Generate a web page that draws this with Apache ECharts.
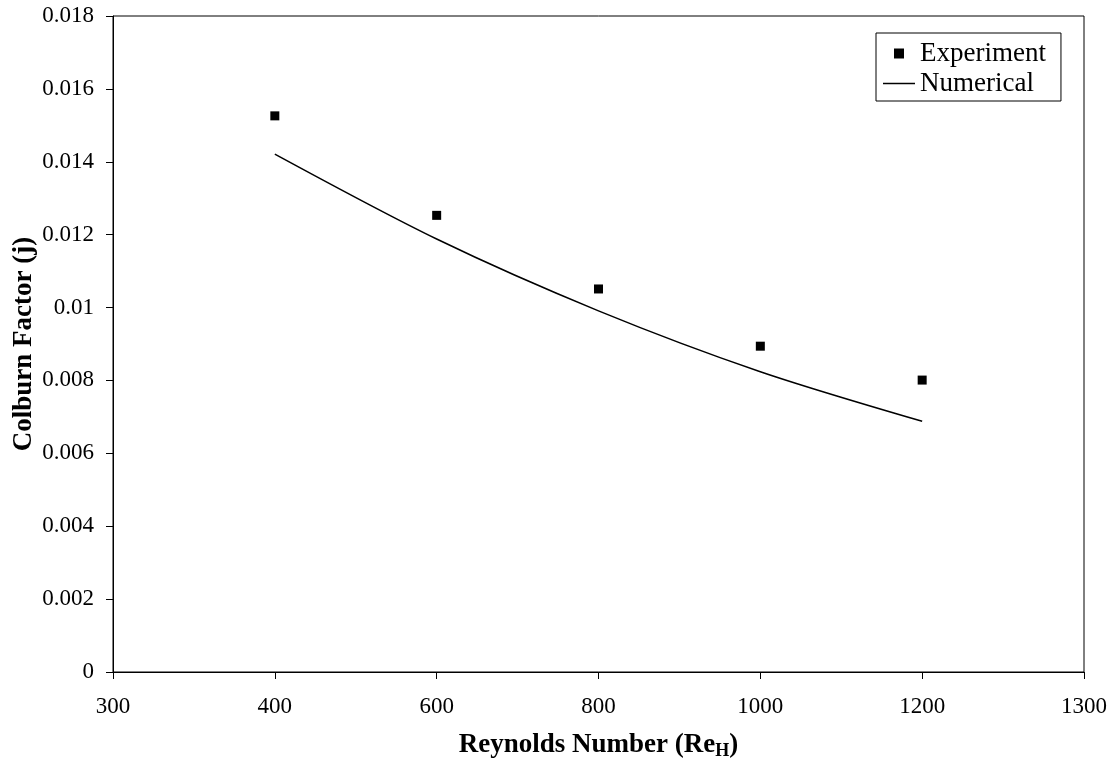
<!DOCTYPE html>
<html>
<head>
<meta charset="utf-8">
<title>Colburn Factor vs Reynolds Number</title>
<script src="https://cdn.jsdelivr.net/npm/echarts@6/dist/echarts.min.js"></script>
<style>
    html, body { margin: 0; padding: 0; background: #fff; }
    #chart { width: 1117px; height: 765px; }
</style>
</head>
<body>
<div id="chart"></div>
<script>
    // x axis tick labels (evenly spaced, as in the original)
    var xLabels = ['300', '400', '600', '800', '1000', '1200', '1300'];
    // Reynolds numbers of the data points
    var reynolds = ['400', '600', '800', '1000', '1200'];
    var experiment = [0.01526, 0.01253, 0.01051, 0.00894, 0.00801];
    var numerical = [0.01421, 0.01188, 0.00991, 0.00824, 0.00688];

    var font = 'Liberation Serif';

    var chart = echarts.init(document.getElementById('chart'));
    chart.setOption({
        backgroundColor: '#fff',
        animation: false,
        grid: {
            left: 113,
            right: 33,
            top: 16,
            bottom: 93,
            outerBoundsMode: 'none',
            show: true,
            borderColor: '#000',
            borderWidth: 1
        },
        legend: {
            left: 876,
            top: 33,
            orient: 'vertical',
            borderColor: '#000',
            borderWidth: 1,
            padding: [7, 15, 4, 7],
            itemGap: 3,
            itemWidth: 32,
            itemHeight: 10,
            textStyle: { fontFamily: font, fontSize: 27, color: '#000' },
            data: [
                { name: 'Experiment', icon: 'path://M0,0h10v10h-10z' },
                { name: 'Numerical', icon: 'path://M0,0h32v1.5h-32z' }
            ]
        },
        xAxis: {
            type: 'category',
            data: xLabels,
            boundaryGap: false,
            name: '{a|Reynolds Number (Re}{b|H}{a|)}',
            nameLocation: 'middle',
            nameGap: 58,
            nameTextStyle: {
                rich: {
                    a: { fontFamily: font, fontSize: 27, fontWeight: 'bold', color: '#000' },
                    b: { fontFamily: font, fontSize: 18, fontWeight: 'bold', color: '#000', padding: [12, 0, 0, 0] }
                }
            },
            axisLine: { lineStyle: { color: '#000', width: 1 } },
            axisTick: { show: true, length: 7, inside: false, lineStyle: { color: '#000' } },
            axisLabel: { fontFamily: font, fontSize: 23, color: '#000', margin: 23, interval: 0 },
            splitLine: { show: false }
        },
        yAxis: {
            type: 'value',
            min: 0,
            max: 0.018,
            interval: 0.002,
            name: 'Colburn Factor (j)',
            nameLocation: 'middle',
            nameGap: 75,
            nameMoveOverlap: false,
            nameTextStyle: { fontFamily: font, fontSize: 27, fontWeight: 'bold', color: '#000' },
            axisLine: { show: true, lineStyle: { color: '#000', width: 1 } },
            axisTick: { show: true, length: 7, lineStyle: { color: '#000' } },
            axisLabel: { fontFamily: font, fontSize: 23, color: '#000', margin: 19 },
            splitLine: { show: false }
        },
        series: [
            {
                name: 'Experiment',
                type: 'scatter',
                symbol: 'rect',
                symbolSize: 9,
                itemStyle: { color: '#000', opacity: 1 },
                data: reynolds.map(function (r, i) { return [r, experiment[i]]; })
            },
            {
                name: 'Numerical',
                type: 'line',
                symbol: 'none',
                smooth: 0.3,
                lineStyle: { color: '#000', width: 1.5 },
                itemStyle: { color: '#000' },
                data: reynolds.map(function (r, i) { return [r, numerical[i]]; })
            }
        ]
    });
</script>
</body>
</html>
